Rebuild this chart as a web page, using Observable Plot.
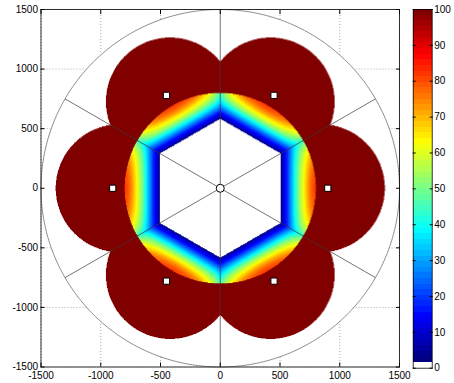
<!DOCTYPE html>
<html>
<head>
<meta charset="utf-8">
<script src="https://cdn.jsdelivr.net/npm/d3@7"></script>
<script src="https://cdn.jsdelivr.net/npm/@observablehq/plot@0.6"></script>
<style>
  html, body { margin: 0; padding: 0; background: #fff; }
  #chart { position: relative; width: 454px; height: 383px; }
  #chart svg { position: absolute; top: 0; overflow: visible; }
</style>
</head>
<body>
<div id="chart"></div>
<script>
// ---- axes and colour bar ticks ----
const axisTicks = [-1500, -1000, -500, 0, 500, 1000, 1500];
const colorbarTicks = [0, 10, 20, 30, 40, 50, 60, 70, 80, 90, 100];

// ---- layout of the cell ----
const outerRadius = 1500;                       // boundary circle
const stationAngles = [0, 60, 120, 180, 240, 300];  // relay directions (deg)
const stationRadius = 900;                      // relay distance from the centre
const sectorLineAngles = [30, 90, 150, 210, 270, 330];
const ringRadius = 800;                         // outer edge of the inner ring
const hexApothem = 505;                         // inner hexagonal hole
const coverCentreRadius = 840;                  // centre of each relay coverage disc
const coverRadius = 537;                        // radius of each relay coverage disc
const coverValue = 100;

// value profile across the inner ring, by distance from the hexagon edge
const ringDistance = [0, 20, 45, 75, 110, 145, 185, 225, 255, 280, 310];
const ringValue    = [2, 9, 15, 25, 37, 50, 62, 73, 79, 82, 80];
// the ring value drops toward each sector boundary line
const lineOffset = 150;
const lineSlope = 1.0;

// ---- colour map: white lowest bin, then jet ----
const nLevels = 64;
function jet(t) {
  const c = v => Math.max(0, Math.min(1, v));
  return d3.rgb(255 * c(1.5 - Math.abs(4 * t - 3)),
                255 * c(1.5 - Math.abs(4 * t - 2)),
                255 * c(1.5 - Math.abs(4 * t - 1))).formatHex();
}
const palette = ["#ffffff", ...d3.range(nLevels - 1).map(i => jet(i / (nLevels - 2)))];
const thresholds = d3.range(1, nLevels).map(i => i * 100 / nLevels);
const colorScale = {type: "threshold", domain: thresholds, range: palette};

const rad = Math.PI / 180;
const stations = stationAngles.map(a => ({x: stationRadius * Math.cos(a * rad), y: stationRadius * Math.sin(a * rad)}));
const coverCentres = stationAngles.map(a => [coverCentreRadius * Math.cos(a * rad), coverCentreRadius * Math.sin(a * rad)]);
const sectorLines = sectorLineAngles.map(a => ({x2: outerRadius * Math.cos(a * rad), y2: outerRadius * Math.sin(a * rad)}));
const profile = d3.scaleLinear().domain(ringDistance).range(ringValue).clamp(true);

function fieldValue(x, y) {
  const r = Math.hypot(x, y);
  if (r > ringRadius) {
    for (const [cx, cy] of coverCentres) {
      if (Math.hypot(x - cx, y - cy) <= coverRadius) return coverValue;
    }
    return NaN;
  }
  const ang = Math.atan2(y, x) / rad;
  const phi = Math.abs(ang - 60 * Math.round(ang / 60));
  const u = r * Math.cos(phi * rad);
  const d = u - hexApothem;
  if (d < 0) return NaN;
  const dl = r * Math.sin((30 - phi) * rad);
  const e = lineOffset + lineSlope * dl;
  const de = Math.pow(Math.pow(d, -3) + Math.pow(e, -3), -1 / 3);
  return profile(de);
}

// boundary circle samples
const circlePts = d3.range(0, 361, 1).map(a => ({x: outerRadius * Math.cos(a * rad), y: outerRadius * Math.sin(a * rad)}));
const diskPts = d3.range(-180, 181, 1).map(a => {
  const x = outerRadius * Math.sin(a / 2 * rad);
  const h = Math.sqrt(Math.max(0, outerRadius * outerRadius - x * x));
  return {x, lo: -h, hi: h};
});

const fmt = d => String(d);
const font = {fontFamily: "'Liberation Sans', Arial, Helvetica, sans-serif", fontSize: "10px", background: "transparent", color: "black", overflow: "visible"};

const main = Plot.plot({
  width: 405, height: 383,
  marginLeft: 40.5, marginRight: 6, marginTop: 9, marginBottom: 16.5,
  x: {domain: [-1500, 1500]},
  y: {domain: [-1500, 1500]},
  color: colorScale,
  style: font,
  marks: [
    Plot.ruleX(axisTicks, {stroke: "#8a8a8a", strokeWidth: 0.7, strokeDasharray: "1,2"}),
    Plot.ruleY(axisTicks, {stroke: "#8a8a8a", strokeWidth: 0.7, strokeDasharray: "1,2"}),
    Plot.areaY(diskPts, {x: "x", y1: "lo", y2: "hi", fill: "white"}),
    Plot.line(circlePts, {x: "x", y: "y", stroke: "#707070", strokeWidth: 0.8}),
    Plot.raster({fill: fieldValue, x1: -1500, x2: 1500, y1: -1500, y2: 1500, pixelSize: 0.5}),
    Plot.link(sectorLines, {x1: 0, y1: 0, x2: "x2", y2: "y2", stroke: "#3a3a3a", strokeWidth: 0.7}),
    Plot.dot(stations, {x: "x", y: "y", symbol: "square", r: 3.5, fill: "white", stroke: "black", strokeWidth: 1}),
    Plot.dot([{x: 0, y: 0}], {x: "x", y: "y", r: 4, fill: "white", stroke: "black", strokeWidth: 1}),
    Plot.frame({stroke: "black", strokeWidth: 0.8}),
    Plot.axisX(axisTicks, {anchor: "bottom", tickSize: -4, tickPadding: 9, tickFormat: fmt}),
    Plot.axisX(axisTicks, {anchor: "top", tickSize: -4, tickFormat: () => ""}),
    Plot.axisY(axisTicks, {anchor: "left", tickSize: -4, tickPadding: 7, tickFormat: fmt}),
    Plot.axisY(axisTicks, {anchor: "right", tickSize: -4, tickFormat: () => ""})
  ]
});

// colour bar
const bins = d3.range(nLevels).map(i => ({lo: i * 100 / nLevels, hi: (i + 1) * 100 / nLevels, mid: (i + 0.5) * 100 / nLevels}));
const bar = Plot.plot({
  width: 49, height: 383,
  marginLeft: 7.7, marginRight: 22.3, marginTop: 9, marginBottom: 15.3,
  y: {domain: [0, 100]},
  color: colorScale,
  style: font,
  marks: [
    Plot.rect(bins, {y1: "lo", y2: "hi", fill: "mid", inset: 0, shapeRendering: "crispEdges"}),
    Plot.frame({stroke: "black", strokeWidth: 0.8}),
    Plot.axisY(colorbarTicks, {anchor: "right", tickSize: -3, tickPadding: 5, tickFormat: fmt}),
    Plot.axisY(colorbarTicks, {anchor: "left", tickSize: -3, tickFormat: () => ""})
  ]
});

const chart = document.getElementById("chart");
main.style.left = "0px";
bar.style.left = "405px";
chart.append(main, bar);
</script>
</body>
</html>
